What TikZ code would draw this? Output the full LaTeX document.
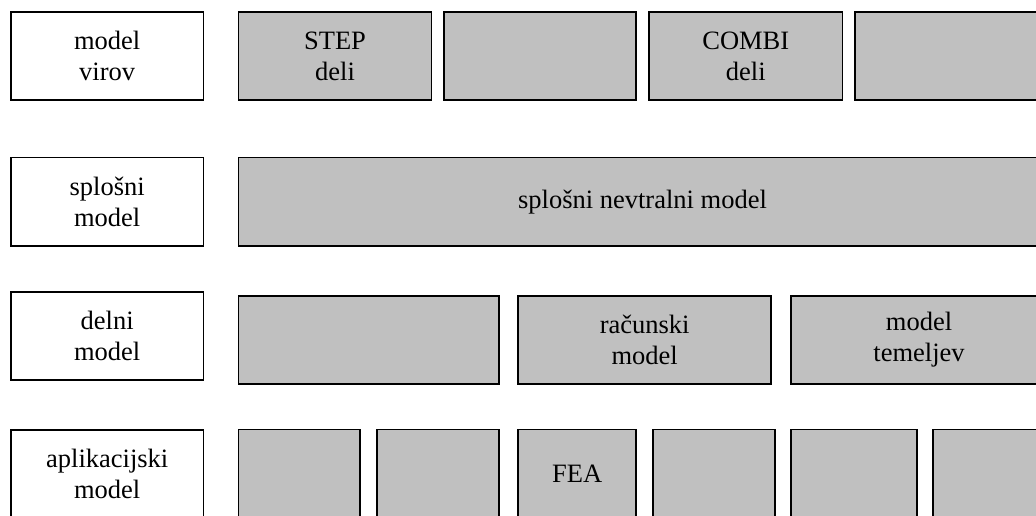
\documentclass[tikz,border=0pt]{standalone}
\usepackage{fontspec}
\setmainfont{Liberation Serif}
\usepackage{xcolor}
\usepackage{tikz}
\usetikzlibrary{positioning}

\definecolor{layergray}{RGB}{192,192,192}

\begin{document}
\begin{tikzpicture}[
        x=1pt, y=-1pt,
        font=\fontsize{26.5}{31}\selectfont,
        labelbox/.style={draw, rectangle, line width=1.6pt, minimum width=192.7pt, minimum height=88.4pt, align=center, fill=white, inner sep=0pt},
        layerbox/.style={labelbox, fill=layergray}
        ]
        \path[use as bounding box, clip] (0,0) rectangle (1036,515);

        % model virov
        \node[labelbox] (virov) at (107.2,56) {model\\virov};
        \node[layerbox, minimum width=193pt] (step) at (335,56) {STEP\\deli};
        \node[layerbox, minimum width=192.1pt, right=11pt of step] (virB) {};
        \node[layerbox, minimum width=193.4pt, right=11.3pt of virB] (combi) {COMBI\\deli};
        \node[layerbox, minimum width=192.1pt, right=11pt of combi] (virD) {};

        % splosni model
        \node[labelbox] (splosni) at (107.2,201.7) {splošni\\model};
        \node[layerbox, minimum width=808pt, anchor=west] (nevtral) at (237.7,201.7) {splošni nevtralni model};

        % delni model
        \node[labelbox] (delni) at (107.2,336) {delni\\model};
        \node[layerbox, minimum width=260.7pt, anchor=west] (delA) at (237.7,340) {};
        \node[layerbox, minimum width=253.1pt, right=17.3pt of delA] (racun) {računski\\model};
        \node[layerbox, minimum width=256.4pt, right=18pt of racun] (temelj) {model\\temeljev};

        % aplikacijski model
        \node[labelbox] (aplik) at (107.2,474) {aplikacijski\\model};
        \node[layerbox, minimum width=121.7pt, anchor=west] (apA) at (237.7,473.5) {};
        \node[layerbox, minimum width=122.4pt, right=15pt of apA] (apB) {};
        \node[layerbox, minimum width=118.1pt, right=17.3pt of apB] (fea) {FEA};
        \node[layerbox, minimum width=122.4pt, right=15pt of fea] (apD) {};
        \node[layerbox, minimum width=126.1pt, right=14pt of apD] (apE) {};
        \node[layerbox, minimum width=122.4pt, right=14.3pt of apE] (apF) {};
    \end{tikzpicture}
\end{document}
